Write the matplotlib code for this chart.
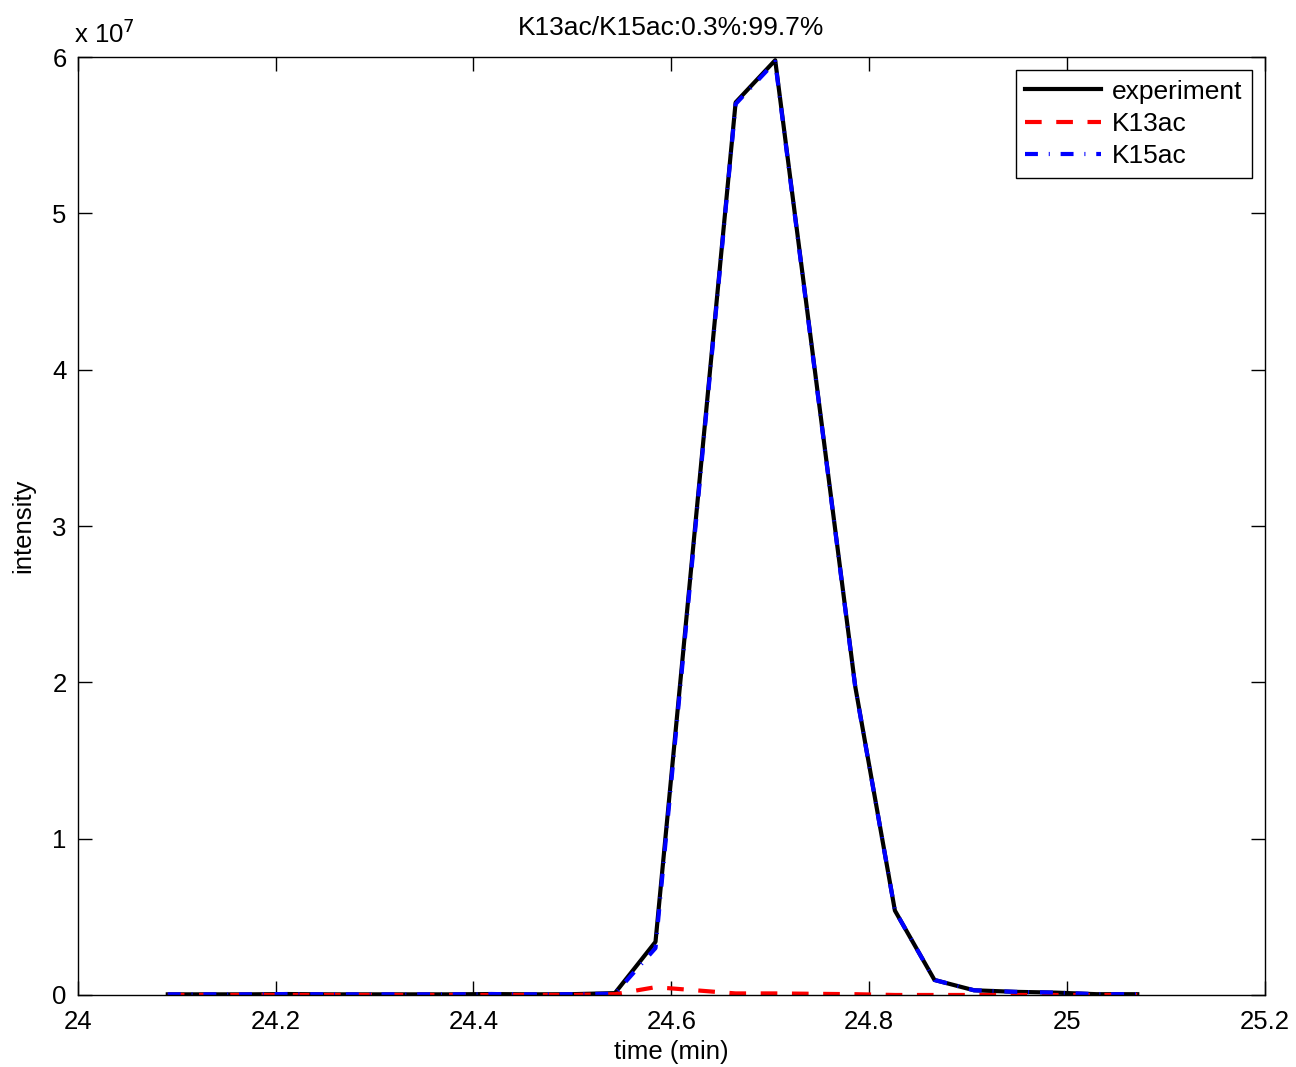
import matplotlib
matplotlib.use("Agg")
import matplotlib.pyplot as plt
from matplotlib.ticker import FuncFormatter

plt.rcParams['font.family'] = ['Liberation Sans', 'DejaVu Sans']

# ====== Datos ======
tiempo = [24.091, 24.131, 24.172, 24.213, 24.254, 24.295, 24.335, 24.377,
          24.418, 24.459, 24.499, 24.543, 24.584, 24.665, 24.705, 24.786,
          24.826, 24.866, 24.906, 24.948, 24.989, 25.030, 25.071]

experimento = [0.004e7, 0.004e7, 0.004e7, 0.006e7, 0.004e7, 0.004e7, 0.004e7, 0.004e7,
               0.006e7, 0.004e7, 0.005e7, 0.012e7, 0.34e7, 5.71e7, 5.98e7, 1.97e7,
               0.54e7, 0.096e7, 0.03e7, 0.02e7, 0.015e7, 0.005e7, 0.005e7]

k13ac = [0.0, 0.0, 0.0, 0.0, 0.0, 0.0, 0.0, 0.0,
         0.0, 0.0, 0.0, 0.005e7, 0.05e7, 0.01e7, 0.01e7, 0.005e7,
         0.0, 0.0, 0.0, 0.0, 0.0, 0.0, 0.0]

k15ac = [0.004e7, 0.004e7, 0.004e7, 0.006e7, 0.004e7, 0.004e7, 0.004e7, 0.004e7,
         0.006e7, 0.004e7, 0.005e7, 0.008e7, 0.30e7, 5.70e7, 5.97e7, 1.965e7,
         0.54e7, 0.096e7, 0.03e7, 0.02e7, 0.015e7, 0.005e7, 0.005e7]

titulo = "K13ac/K15ac:0.3%:99.7%"

# ====== Gráfico ======
fig = plt.figure(figsize=(12.96, 10.67), dpi=100)
ax = fig.add_axes([0.060, 0.0675, 0.916, 0.879])

ax.plot(tiempo, experimento, color='black', linewidth=3, label='experiment')
ax.plot(tiempo, k13ac, color='red', linewidth=3, linestyle=(0, (4, 3.5)), label='K13ac')
ax.plot(tiempo, k15ac, color='blue', linewidth=3,
        linestyle=(0, (3.1, 2.6, 0.25, 2.6)), label='K15ac')

ax.set_xlim(24, 25.2)
ax.set_ylim(0, 6e7)
ax.set_xticks([24, 24.2, 24.4, 24.6, 24.8, 25, 25.2])
ax.set_xticklabels(['24', '24.2', '24.4', '24.6', '24.8', '25', '25.2'])
ax.set_yticks([0, 1e7, 2e7, 3e7, 4e7, 5e7, 6e7])
ax.yaxis.set_major_formatter(FuncFormatter(lambda v, p: '%g' % (v / 1e7)))
ax.tick_params(direction='in', top=True, right=True, length=10, width=1,
               labelsize=18.5)
ax.tick_params(axis='x', pad=11)
ax.tick_params(axis='y', pad=8)
for s in ax.spines.values():
    s.set_linewidth(1)

ax.text(-0.003, 1.015, r'x 10$^7$', transform=ax.transAxes, fontsize=18.5,
        ha='left', va='baseline')
ax.set_title(titulo, fontsize=19, pad=16)
ax.set_xlabel("time (min)", fontsize=18.5, labelpad=4)
ax.set_ylabel("intensity", fontsize=18.5, labelpad=12)

leg = ax.legend(loc='upper right', fontsize=19, fancybox=False, framealpha=1,
                edgecolor='black', handlelength=2.9, borderaxespad=0.5,
                handletextpad=0.4, labelspacing=0.32, borderpad=0.35)
leg.get_frame().set_linewidth(1)

fig.savefig("out.png", dpi=100)
